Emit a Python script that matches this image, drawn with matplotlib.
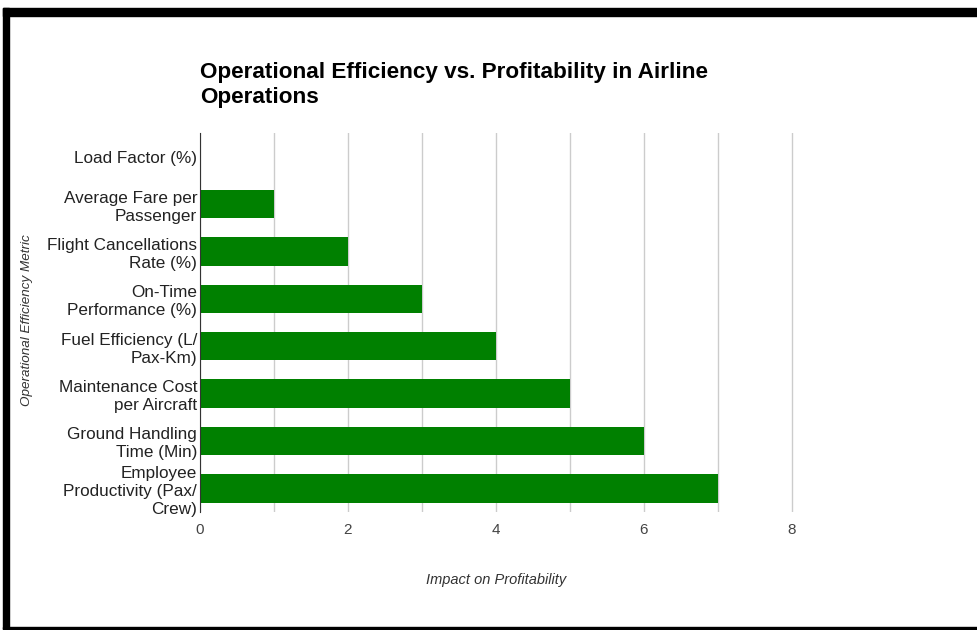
import matplotlib
matplotlib.use("Agg")
import matplotlib.pyplot as plt
from matplotlib.patches import Rectangle

plt.rcParams['font.family'] = ['Liberation Sans', 'DejaVu Sans']

categories = [
    "Load Factor (%)",
    "Average Fare per\nPassenger",
    "Flight Cancellations\nRate (%)",
    "On-Time\nPerformance (%)",
    "Fuel Efficiency (L/\nPax-Km)",
    "Maintenance Cost\nper Aircraft",
    "Ground Handling\nTime (Min)",
    "Employee\nProductivity (Pax/\nCrew)",
]
values = [0, 1, 2, 3, 4, 5, 6, 7]
x_ticks = [0, 2, 4, 6, 8]

W, H = 977, 630
fig = plt.figure(figsize=(W / 100, H / 100), dpi=100)
ax = fig.add_axes([200 / W, 1 - 512 / H, (794 - 200) / W, (512 - 133) / H])

pos = list(range(len(categories)))
ax.barh(pos, values, height=0.6, color="#008000", zorder=3)
ax.set_ylim(len(categories) - 0.5, -0.5)
ax.set_xlim(0, 8.03)

ax.set_yticks(pos)
ax.set_yticklabels(categories, fontsize=12.3, color="#222222", linespacing=1.25)
ax.set_xticks(x_ticks)
ax.set_xticklabels([str(t) for t in x_ticks], fontsize=11, color="#444444")
ax.set_xticks(range(0, 9), minor=True)
ax.tick_params(axis="both", which="both", length=0)
ax.tick_params(axis="y", pad=2)
ax.tick_params(axis="x", pad=8)
ax.grid(axis="x", which="both", color="#cccccc", linewidth=1, zorder=0)

for s in ["top", "right", "bottom"]:
    ax.spines[s].set_visible(False)
ax.spines["left"].set_color("#333333")
ax.spines["left"].set_zorder(4)

fig.text(496 / W, 1 - 580 / H, "Impact on Profitability", fontsize=10.5,
         style="italic", color="#333333", ha="center", va="center")
fig.text(27 / W, 1 - 320 / H, "Operational Efficiency Metric", rotation=90,
         fontsize=9.7, style="italic", color="#333333", ha="center", va="center")

fig.text(200 / W, 1 - 85 / H,
         "Operational Efficiency vs. Profitability in Airline\nOperations",
         fontsize=16.2, fontweight="bold", color="#000000", ha="left",
         va="center", linespacing=1.25)

# frame around the chart
fig.patches.append(Rectangle((3 / W, 1 - 16 / H), 1, 8 / H,
                             transform=fig.transFigure, color="black", zorder=10))
fig.patches.append(Rectangle((3 / W, 1 - 629 / H), 6 / W, 621 / H,
                             transform=fig.transFigure, color="black", zorder=10))
fig.patches.append(Rectangle((3 / W, 1 - 629 / H), 1, 2 / H,
                             transform=fig.transFigure, color="black", zorder=10))

fig.savefig("out.png", dpi=100, facecolor="white")
